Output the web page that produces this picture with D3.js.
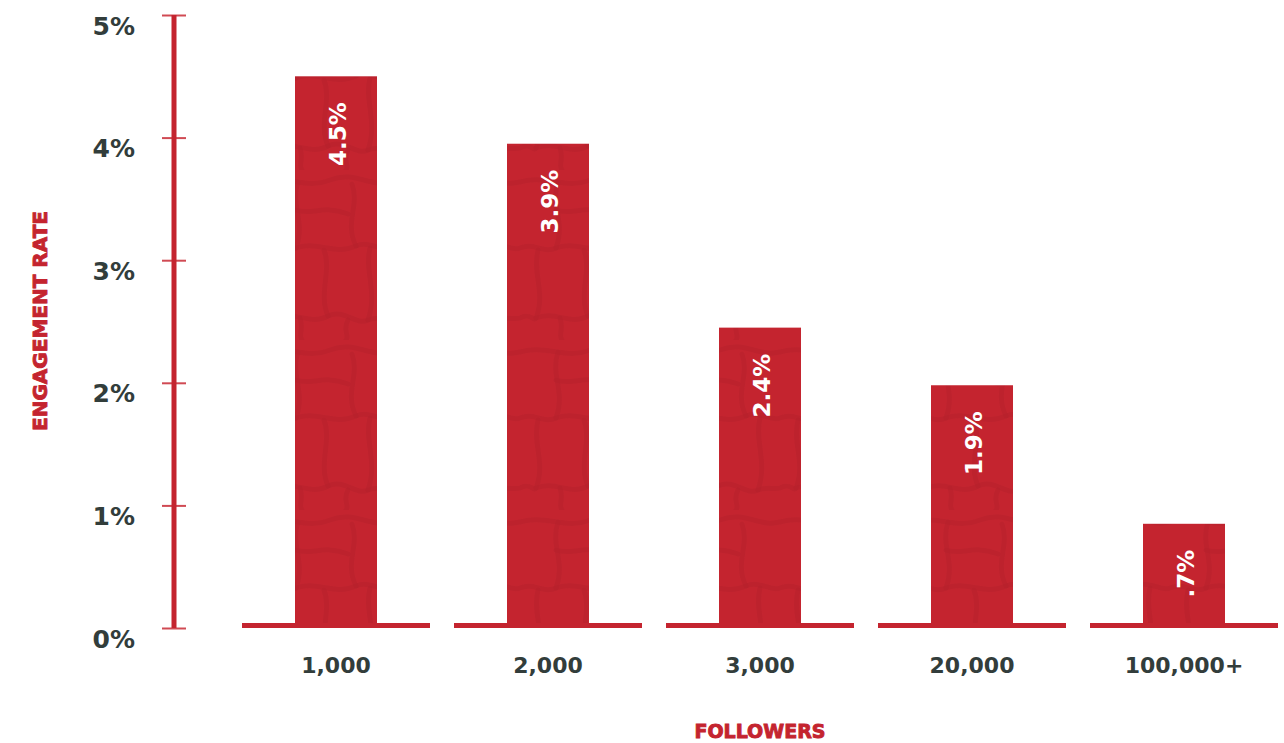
<!DOCTYPE html>
<html lang="en">
<head>
<meta charset="UTF-8" />
<script src="https://d3js.org/d3.v7.min.js"></script>
<title>Engagement rate by followers</title>
<style>
  body { margin: 0; background: #fff; }
  svg text { font-family: "DejaVu Sans", "Liberation Sans", Arial, sans-serif; }
</style>
</head>
<body>
<script>
  const categories = ["1,000", "2,000", "3,000", "20,000", "100,000+"];
  const values = [4.5, 3.95, 2.45, 1.98, 0.85];
  const valueLabels = ["4.5%", "3.9%", "2.4%", "1.9%", ".7%"];
  const yTicks = [0, 1, 2, 3, 4, 5];

  const red = "#c4242f";
  const dark = "#323d3b";

  const svg = d3.select("body").append("svg")
      .attr("width", 1284)
      .attr("height", 743);

  // stone texture for the bars
  const defs = svg.append("defs");
  const pat = defs.append("pattern")
      .attr("id", "stone")
      .attr("patternUnits", "userSpaceOnUse")
      .attr("width", 130).attr("height", 170);
  pat.append("rect").attr("width", 130).attr("height", 170).attr("fill", red);
  const stonePaths = [
    "M0,12 C25,4 45,20 70,10 S110,18 130,12",
    "M38,12 C30,35 46,52 36,78",
    "M92,14 C100,36 84,52 96,76",
    "M0,78 C14,72 24,84 36,78 C56,70 74,86 96,76 C110,70 120,82 130,78",
    "M18,80 C12,104 26,122 16,148",
    "M64,80 C72,100 58,124 68,146",
    "M110,78 C104,100 118,122 108,150",
    "M0,148 C10,142 14,152 16,148 C36,140 50,156 68,146 C84,138 96,156 108,150 C118,146 124,150 130,148",
    "M40,148 C44,158 38,166 42,170",
    "M88,150 C82,160 90,166 86,170",
    "M36,40 C50,46 64,34 88,44"
  ];
  pat.selectAll("path").data(stonePaths).join("path")
      .attr("d", d => d)
      .attr("fill", "none")
      .attr("stroke", "#b3202a")
      .attr("stroke-width", 5)
      .attr("stroke-linecap", "round")
      .attr("opacity", 0.45);

  const x = d3.scaleBand().domain(categories).range([230, 1290]).padding(0);
  const y = d3.scaleLinear().domain([0, 5]).range([628, 15]);

  // y axis
  const axisY = d3.axisLeft(y)
      .tickValues(yTicks)
      .tickFormat(d => d + "%")
      .tickSize(0);
  const gY = svg.append("g").attr("transform", "translate(174,0)");
  axisY(gY);
  gY.select(".domain").remove();
  gY.selectAll(".tick text")
      .attr("x", -39)
      .attr("y", 19)
      .attr("dy", 0)
      .attr("fill", dark)
      .attr("font-size", 25)
      .attr("font-weight", 700)
      .attr("text-anchor", "end");
  gY.selectAll(".tick").append("line")
      .attr("x1", -12).attr("x2", 12)
      .attr("stroke", "#d04a53")
      .attr("stroke-width", 2);
  gY.append("line")
      .attr("y1", y(5)).attr("y2", y(0))
      .attr("stroke", red)
      .attr("stroke-width", 5);

  // bars
  svg.append("g").selectAll("rect")
    .data(values)
    .join("rect")
      .attr("x", (d, i) => x(categories[i]) + x.bandwidth() / 2 - 41)
      .attr("width", 82)
      .attr("y", d => y(d))
      .attr("height", d => y(0) - y(d))
      .attr("fill", "url(#stone)");

  // baseline segments per category
  svg.append("g").selectAll("rect")
    .data(categories)
    .join("rect")
      .attr("x", d => x(d) + 12)
      .attr("width", x.bandwidth() - 24)
      .attr("y", y(0) - 5)
      .attr("height", 5)
      .attr("fill", red);

  // value labels inside bars
  svg.append("g").selectAll("text")
    .data(values)
    .join("text")
      .attr("transform", (d, i) =>
        `translate(${x(categories[i]) + x.bandwidth() / 2 + 10},${y(d) + 26}) rotate(-90)`)
      .attr("text-anchor", "end")
      .attr("fill", "#fff")
      .attr("font-size", 23)
      .attr("font-weight", 700)
      .text((d, i) => valueLabels[i]);

  // x axis labels
  const axisX = d3.axisBottom(x).tickSize(0);
  const gX = svg.append("g").attr("transform", "translate(0,673)");
  axisX(gX);
  gX.select(".domain").remove();
  gX.selectAll(".tick text")
      .attr("y", 0)
      .attr("dy", 0)
      .attr("fill", dark)
      .attr("font-size", 22)
      .attr("font-weight", 700);

  // axis titles (heavy face, thickened with a stroke)
  svg.append("text")
      .attr("transform", "translate(47,321) rotate(-90)")
      .attr("text-anchor", "middle")
      .attr("fill", red)
      .attr("stroke", red)
      .attr("stroke-width", 0.9)
      .attr("font-size", 20)
      .attr("font-weight", 700)
      .text("ENGAGEMENT RATE");

  svg.append("text")
      .attr("x", 760)
      .attr("y", 738)
      .attr("text-anchor", "middle")
      .attr("fill", red)
      .attr("stroke", red)
      .attr("stroke-width", 0.9)
      .attr("font-size", 19)
      .attr("font-weight", 700)
      .text("FOLLOWERS");
</script>
</body>
</html>
